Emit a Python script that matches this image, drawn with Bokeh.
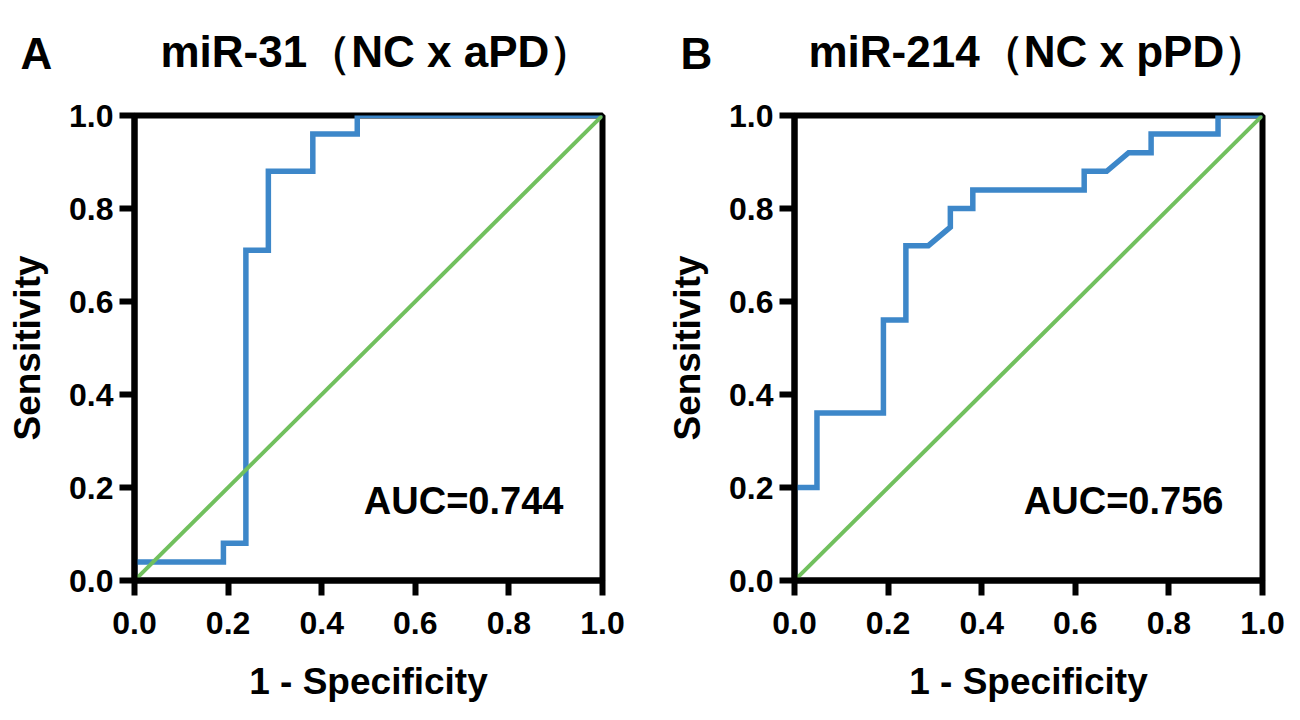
from bokeh.plotting import figure
from bokeh.layouts import row, column
from bokeh.models import Range1d, FixedTicker, Label
from bokeh.embed import file_html
from bokeh.resources import INLINE

# ---- data ----
tick_values = [0.0, 0.2, 0.4, 0.6, 0.8, 1.0]
tick_labels = ["0.0", "0.2", "0.4", "0.6", "0.8", "1.0"]

a_fpr = [0.0, 0.0, 0.19, 0.19, 0.238, 0.238, 0.286, 0.286, 0.381, 0.381, 0.476, 0.476, 1.0]
a_tpr = [0.0, 0.04, 0.04, 0.08, 0.08, 0.71, 0.71, 0.88, 0.88, 0.96, 0.96, 1.0, 1.0]

b_fpr = [0.0, 0.0, 0.048, 0.048, 0.19, 0.19, 0.238, 0.238, 0.286, 0.333, 0.333, 0.381, 0.381,
         0.619, 0.619, 0.667, 0.714, 0.762, 0.762, 0.905, 0.905, 1.0]
b_tpr = [0.0, 0.2, 0.2, 0.36, 0.36, 0.56, 0.56, 0.72, 0.72, 0.76, 0.80, 0.80, 0.84,
         0.84, 0.88, 0.88, 0.92, 0.92, 0.96, 0.96, 1.0, 1.0]

ref_x = [0.0, 1.0]
ref_y = [0.0, 1.0]

panel_letters = ["A", "B"]
titles = ["miR-31（NC x aPD）", "miR-214（NC x pPD）"]
auc_texts = ["AUC=0.744", "AUC=0.756"]
x_label = "1 - Specificity"
y_label = "Sensitivity"

BLUE = "#3d87c9"
GREEN = "#71c05e"
FONT = "Liberation Sans"
HEADER_H = 95


def no_align(fig):
    if "frame_align" in fig.properties():
        fig.frame_align = False


def make_header(width, letter, title, letter_x, title_x):
    h = figure(width=width, height=HEADER_H, output_backend="svg", toolbar_location=None,
               x_range=Range1d(0, width), y_range=Range1d(HEADER_H, 0),
               min_border=0, x_axis_location=None, y_axis_location=None)
    no_align(h)
    h.grid.visible = False
    h.outline_line_color = None
    h.background_fill_color = "white"
    h.border_fill_color = "white"
    h.add_layout(Label(x=letter_x, y=53, text=letter, text_font=FONT, text_font_style="bold",
                       text_font_size="44px", text_color="black", text_baseline="alphabetic"))
    h.add_layout(Label(x=title_x, y=51, text=title, text_font=FONT, text_font_style="bold",
                       text_font_size="44px", text_color="black", text_baseline="alphabetic"))
    return h


def make_panel(fpr, tpr, auc, width, bl, br):
    p = figure(width=width, height=613, output_backend="svg", toolbar_location=None,
               x_range=Range1d(0, 1), y_range=Range1d(0, 1),
               min_border_left=bl, min_border_right=br,
               min_border_top=20, min_border_bottom=128)
    no_align(p)
    p.grid.visible = False
    p.background_fill_color = "white"
    p.border_fill_color = "white"
    p.outline_line_color = "black"
    p.outline_line_width = 6
    for ax in (p.xaxis[0], p.yaxis[0]):
        ax.ticker = FixedTicker(ticks=tick_values)
        ax.major_label_overrides = {v: s for v, s in zip(tick_values, tick_labels)}
        ax.axis_line_width = 6
        ax.axis_line_color = "black"
        ax.major_tick_line_width = 6
        ax.major_tick_out = 15
        ax.major_tick_in = 0
        ax.minor_tick_line_color = None
        ax.major_label_text_font = FONT
        ax.major_label_text_font_style = "bold"
        ax.major_label_text_font_size = "32px"
        ax.major_label_text_color = "black"
        ax.axis_label_text_font = FONT
        ax.axis_label_text_font_style = "bold"
        ax.axis_label_text_font_size = "37px"
        ax.axis_label_text_color = "black"
    p.xaxis.axis_label = x_label
    p.yaxis.axis_label = y_label
    p.xaxis.major_label_standoff = 16
    p.yaxis.major_label_standoff = 6
    p.xaxis.axis_label_standoff = 24
    p.yaxis.axis_label_standoff = 18

    p.line(fpr, tpr, line_color=BLUE, line_width=5.5, line_join="miter")
    p.line(ref_x, ref_y, line_color=GREEN, line_width=4)

    p.add_layout(Label(x=0.49, y=0.172, text=auc, text_font=FONT, text_font_style="bold",
                       text_font_size="38px", text_color="black", text_baseline="alphabetic"))
    return p


ha = make_header(642, panel_letters[0], titles[0], 20, 160)
hb = make_header(650, panel_letters[1], titles[1], 38, 166)
pa = make_panel(a_fpr, a_tpr, auc_texts[0], 642, 134, 40)
pb = make_panel(b_fpr, b_tpr, auc_texts[1], 650, 152, 30)

layout = row(column(ha, pa), column(hb, pb))
open("out.html", "w").write(file_html(layout, INLINE))
